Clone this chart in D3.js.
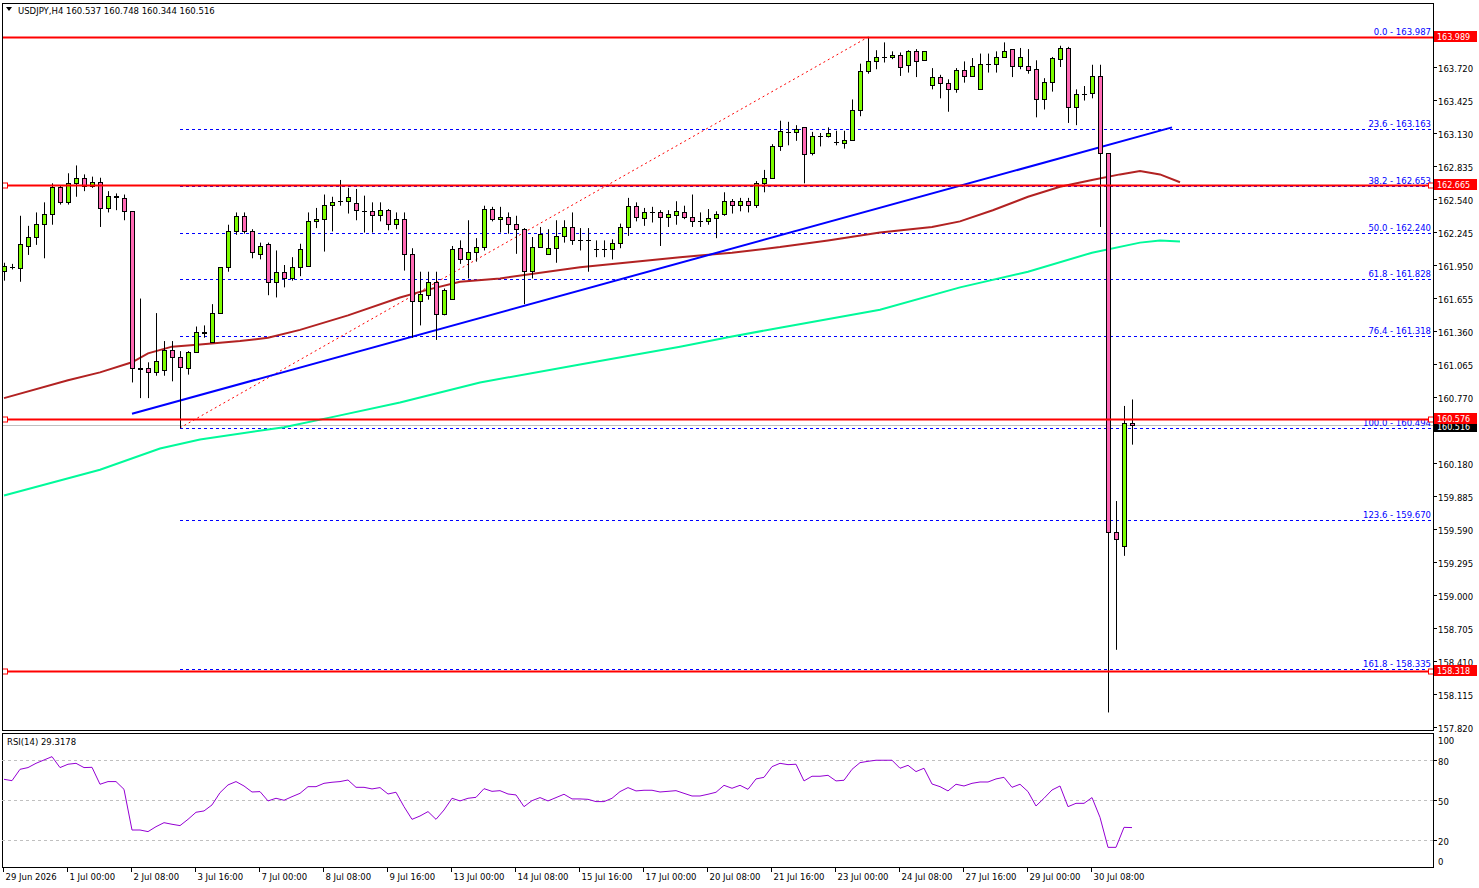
<!DOCTYPE html>
<html><head><meta charset="utf-8">
<script src="https://cdn.jsdelivr.net/npm/d3@7/dist/d3.min.js"></script>
<style>body{margin:0;background:#fff}svg{display:block}text{font-family:"DejaVu Sans",sans-serif}</style>
</head><body><svg id="c" width="1479" height="888"></svg>
<script>
// ---- DATA (USDJPY H4) ----
const opens=[161.90,161.93,161.92,162.12,162.20,162.32,162.41,162.65,162.51,162.68,162.73,162.66,162.69,162.46,162.57,162.55,162.43,161.03,161.03,160.99,161.01,161.19,161.13,161.03,161.17,161.34,161.26,161.52,161.93,162.25,162.39,162.25,162.05,162.14,161.80,161.89,161.83,161.93,161.94,162.34,162.36,162.49,162.52,162.52,162.50,162.43,162.43,162.40,162.44,162.32,162.36,162.05,161.63,161.68,161.80,161.51,161.65,162.10,162.00,162.07,162.11,162.45,162.36,162.38,162.32,162.27,161.90,162.11,162.05,162.10,162.21,162.29,162.17,162.17,162.09,162.09,162.09,162.15,162.29,162.48,162.37,162.42,162.42,162.38,162.40,162.42,162.38,162.34,162.34,162.37,162.41,162.52,162.49,162.52,162.49,162.68,162.73,163.01,163.14,163.14,163.18,162.95,163.10,163.10,163.05,163.04,163.07,163.34,163.68,163.77,163.81,163.81,163.83,163.74,163.86,163.78,163.56,163.63,163.58,163.52,163.69,163.64,163.52,163.75,163.75,163.81,163.88,163.73,163.73,163.70,163.43,163.59,163.79,163.89,163.36,163.48,163.49,163.64,162.95,159.56,159.44,160.537];
const highs=[161.97,161.96,162.39,162.30,162.42,162.51,162.68,162.66,162.77,162.84,162.76,162.74,162.73,162.61,162.59,162.58,162.43,161.65,161.08,161.52,161.27,161.27,161.18,161.18,161.40,161.41,161.60,161.93,162.31,162.42,162.42,162.27,162.15,162.15,162.08,161.95,162.02,162.14,162.42,162.46,162.58,162.56,162.71,162.64,162.63,162.57,162.51,162.51,162.45,162.42,162.42,162.10,161.89,161.89,161.89,161.74,162.12,162.17,162.35,162.19,162.48,162.47,162.47,162.42,162.39,162.28,162.20,162.29,162.27,162.35,162.35,162.42,162.28,162.28,162.17,162.17,162.18,162.32,162.55,162.51,162.46,162.47,162.44,162.44,162.52,162.48,162.58,162.42,162.45,162.43,162.60,162.54,162.55,162.55,162.70,162.80,163.03,163.24,163.23,163.20,163.18,163.14,163.13,163.18,163.15,163.15,163.43,163.75,163.99,163.87,163.94,163.86,163.85,163.87,163.88,163.86,163.71,163.65,163.61,163.71,163.77,163.80,163.84,163.84,163.86,163.94,163.88,163.89,163.88,163.78,163.62,163.81,163.91,163.90,163.52,163.55,163.74,163.74,162.95,159.84,160.69,160.748];
const lows=[161.81,161.91,161.80,162.04,162.13,162.01,162.31,162.49,162.49,162.56,162.61,162.64,162.29,162.42,162.44,162.35,160.90,160.76,160.76,160.96,160.96,160.91,160.49,160.97,161.17,161.30,161.26,161.52,161.89,162.22,162.23,162.01,162.00,161.68,161.66,161.75,161.81,161.85,161.94,162.28,162.07,162.25,162.48,162.41,162.35,162.24,162.24,162.34,162.26,162.27,161.90,161.30,161.41,161.64,161.28,161.50,161.64,161.96,161.83,161.98,162.08,162.34,162.24,162.23,162.05,161.60,161.83,162.11,162.04,161.97,162.15,162.13,162.08,161.89,162.02,162.02,162.00,162.10,162.21,162.34,162.30,162.33,162.12,162.29,162.31,162.36,162.29,162.29,162.31,162.19,162.39,162.41,162.43,162.42,162.46,162.60,162.72,162.97,163.02,163.06,162.68,162.93,163.01,163.09,163.02,162.99,163.06,163.28,163.66,163.70,163.76,163.79,163.64,163.67,163.63,163.78,163.52,163.44,163.32,163.49,163.58,163.64,163.52,163.67,163.67,163.81,163.63,163.70,163.66,163.27,163.34,163.50,163.72,163.22,163.20,163.42,163.44,162.29,157.95,158.51,159.35,160.344];
const closes=[161.94,161.93,162.14,162.20,162.32,162.41,162.65,162.51,162.68,162.73,162.66,162.69,162.46,162.57,162.56,162.43,161.03,161.02,160.99,161.09,161.19,161.13,161.04,161.17,161.35,161.35,161.52,161.93,162.25,162.39,162.25,162.07,162.12,161.80,161.89,161.83,161.93,162.09,162.34,162.36,162.49,162.51,162.52,162.56,162.44,162.43,162.40,162.44,162.32,162.36,162.05,161.63,161.69,161.80,161.51,161.73,162.09,162.00,162.07,162.11,162.45,162.36,162.38,162.32,162.27,161.90,162.11,162.23,162.10,162.21,162.29,162.17,162.17,162.17,162.09,162.09,162.15,162.29,162.48,162.38,162.42,162.42,162.38,162.41,162.43,162.38,162.34,162.34,162.37,162.41,162.52,162.49,162.52,162.49,162.68,162.73,163.01,163.15,163.14,163.17,162.94,163.10,163.10,163.13,163.05,163.07,163.34,163.68,163.77,163.81,163.81,163.83,163.72,163.86,163.77,163.86,163.63,163.58,163.52,163.69,163.64,163.73,163.75,163.75,163.81,163.86,163.73,163.81,163.69,163.43,163.59,163.80,163.89,163.36,163.48,163.48,163.64,162.95,159.56,159.50,160.54,160.516];
// moving averages (candle index, price)
const maRedIdx=[0,8,12,16,18,21,24.5,29.5,33,37,43,49.5,53,57,62,72,84.5,91,97,103,109.5,116,119.5,123.6,128,132,136,139.5,142,144.5,147];
const maRedVal=[160.76,160.92,160.99,161.08,161.16,161.22,161.24,161.27,161.30,161.37,161.50,161.66,161.73,161.80,161.83,161.93,162.02,162.06,162.11,162.17,162.24,162.29,162.34,162.44,162.56,162.65,162.71,162.76,162.79,162.76,162.69];
const maGreenIdx=[0,12,19.5,24.5,35,41,49.5,59.5,72,84.5,91,97,109.5,119.5,128,136,142,144.5,147];
const maGreenVal=[159.89,160.12,160.31,160.39,160.50,160.59,160.72,160.90,161.06,161.22,161.31,161.39,161.55,161.75,161.89,162.06,162.15,162.17,162.16];
const rsi=[65.5,64.5,73,74.3,77.5,80,82.5,74.3,76.8,77.5,74.3,74.5,61.8,63.8,63.8,58,27.5,27.5,26.3,30,33,31.8,30.8,35.5,40.8,41.8,46.3,55.5,61.3,63.8,60.5,56,56.3,49.3,51.3,49.8,52.5,55,60,60,62.5,63.3,63.8,65,59.5,59.5,58.3,59.3,54.5,55.8,45,35.5,38,41.3,35.5,42.5,51.3,49.3,51.3,52,58.5,56.5,57,54.5,53.8,45,49.5,51.8,49.3,51.8,54.3,50.8,50.8,50.5,48.8,48.8,51.3,56.3,59.3,56.8,57.3,57.3,56,56.5,57,55,53,53,54.3,55.8,61,58.8,61,58,65.8,67,75,77.5,76.5,76.8,64.3,67.8,67.8,68.5,64.3,64.8,73,78,79,79.8,79.8,79.8,73.8,76,71.3,73.8,62,60,56.8,61.8,60.5,62.5,63.5,63.5,65.8,67,59.5,61.8,56.3,45.5,51.3,57.5,60.5,45,47.5,47.5,51.8,37,14.5,14.5,29.5,29.32];
const fibPct=["0.0","23.6","38.2","50.0","61.8","76.4","100.0","123.6","161.8"];
const fibVal=[163.987,163.163,162.653,162.240,161.828,161.318,160.494,159.670,158.335];
const hLevels=[163.989,162.665,160.576,158.318];
const priceTicks=[163.720,163.425,163.130,162.835,162.540,162.245,161.950,161.655,161.360,161.065,160.770,160.475,160.180,159.885,159.590,159.295,159.000,158.705,158.410,158.115,157.820];
const rsiTicks=[100,80,50,20,0];
const rsiLevels=[80,50,20];
const dateIdx=[0,8,16,24,32,40,48,56,64,72,80,88,96,104,112,120,128,136];
const dateLbl=["29 Jun 2026","1 Jul 00:00","2 Jul 08:00","3 Jul 16:00","7 Jul 00:00","8 Jul 08:00","9 Jul 16:00","13 Jul 00:00","14 Jul 08:00","15 Jul 16:00","17 Jul 00:00","20 Jul 08:00","21 Jul 16:00","23 Jul 00:00","24 Jul 08:00","27 Jul 16:00","29 Jul 00:00","30 Jul 08:00"];
const trend={i0:16,p0:160.62,i1:146,p1:163.18};
const fibLine={i0:22,p0:160.494,i1:108,p1:163.987,start:22};
const header="USDJPY,H4  160.537 160.748 160.344 160.516";
const bid=160.516;

// ---- DRAW ----
const svg=d3.select("#c");
const R=1433, L=2;
const x=d3.scaleLinear().domain([0,1]).range([4,12]);
const y=d3.scaleLinear().domain([157.820,163.720]).range([727,67]);
const yr=d3.scaleLinear().domain([0,100]).range([866.7,733.3]);
const fs=8.5;
svg.append("defs").append("clipPath").attr("id","mc").append("rect").attr("x",L).attr("y",3).attr("width",R-L).attr("height",727);
svg.append("defs").append("clipPath").attr("id","rc").append("rect").attr("x",L).attr("y",733).attr("width",R-L).attr("height",134);
const m=svg.append("g").attr("clip-path","url(#mc)");

m.append("line").attr("x1",L).attr("x2",R).attr("y1",Math.round(y(bid))+0.5).attr("y2",Math.round(y(bid))+0.5).attr("stroke","#c0c0c0");
fibVal.forEach((v,k)=>{
  const yy=Math.round(y(v))+0.5;
  m.append("line").attr("x1",x(fibLine.start)).attr("x2",R).attr("y1",yy).attr("y2",yy)
   .attr("stroke","#0000ff").attr("stroke-dasharray","3,3");
  m.append("text").attr("x",R-2).attr("y",yy-3).attr("text-anchor","end").attr("font-size",fs).attr("fill","#0000ff").text(fibPct[k]+" - "+v.toFixed(3));
});
m.append("line").attr("x1",x(fibLine.i0)).attr("y1",y(fibLine.p0)).attr("x2",x(fibLine.i1)).attr("y2",y(fibLine.p1)).attr("stroke","#ff0000").attr("stroke-dasharray","2,3");
const ln=d3.line();
m.append("path").attr("d",ln(maGreenIdx.map((d,k)=>[x(d),y(maGreenVal[k])]))).attr("fill","none").attr("stroke","#00fa9a").attr("stroke-width",2);
m.append("path").attr("d",ln(maRedIdx.map((d,k)=>[x(d),y(maRedVal[k])]))).attr("fill","none").attr("stroke","#b22222").attr("stroke-width",2);
m.append("line").attr("x1",x(trend.i0)).attr("y1",y(trend.p0)).attr("x2",x(trend.i1)).attr("y2",y(trend.p1)).attr("stroke","#0000ff").attr("stroke-width",2);
opens.forEach((o,i)=>{
  const c=closes[i],cx=Math.round(x(i))+0.5;
  m.append("line").attr("x1",cx).attr("x2",cx).attr("y1",y(highs[i])).attr("y2",y(lows[i])).attr("stroke","#000");
  const t=Math.round(y(Math.max(o,c))),b=Math.round(y(Math.min(o,c)));
  if(b-t<1){m.append("line").attr("x1",cx-2.5).attr("x2",cx+2.5).attr("y1",t+0.5).attr("y2",t+0.5).attr("stroke","#000");}
  else m.append("rect").attr("x",cx-2).attr("y",t+0.5).attr("width",4).attr("height",b-t).attr("fill",c>=o?"#7cfc00":"#ff69b4").attr("stroke","#000");
});
hLevels.forEach((v,k)=>{
  const yy=Math.round(y(v))+0.5;
  m.append("line").attr("x1",L).attr("x2",R).attr("y1",yy).attr("y2",yy).attr("stroke","#ff0000").attr("stroke-width",2);
  if(k>0){
    [5,R-2].forEach(px=>m.append("rect").attr("x",px-2.5).attr("y",yy-2.5).attr("width",5).attr("height",5).attr("fill","#fff").attr("stroke","#ff0000"));
  }
});
svg.append("rect").attr("x",L+0.5).attr("y",3.5).attr("width",R-L).attr("height",727).attr("fill","none").attr("stroke","#000");
svg.append("rect").attr("x",L+0.5).attr("y",733.5).attr("width",R-L).attr("height",134).attr("fill","none").attr("stroke","#000");
svg.append("path").attr("d","M6,7 L12,7 L9,11 Z").attr("fill","#000");
svg.append("text").attr("x",18).attr("y",14).attr("font-size",fs).attr("fill","#000").text(header);
const tagVals=[bid].concat(hLevels);
priceTicks.forEach(v=>{
  const yy=Math.round(y(v))+0.5;
  svg.append("line").attr("x1",R).attr("x2",R+4).attr("y1",yy).attr("y2",yy).attr("stroke","#000");
  if(tagVals.some(t=>Math.abs(y(t)-y(v))<10)) return;
  svg.append("text").attr("x",R+5).attr("y",yy+4).attr("font-size",fs).attr("fill","#000").text(v.toFixed(3));
});
function tag(v,bg,dy){const yy=Math.round(y(v))+dy;
  svg.append("rect").attr("x",R+1).attr("y",yy-5).attr("width",43).attr("height",11).attr("fill",bg);
  svg.append("text").attr("x",R+4).attr("y",yy+4).attr("font-size",8).attr("fill","#fff").text(v.toFixed(3));}
tag(bid,"#000",1);
hLevels.forEach(v=>tag(v,"#ff0000",-1));
const r=svg.append("g").attr("clip-path","url(#rc)");
rsiLevels.forEach(v=>r.append("line").attr("x1",L).attr("x2",R).attr("y1",Math.round(yr(v))+0.5).attr("y2",Math.round(yr(v))+0.5).attr("stroke","#c0c0c0").attr("stroke-dasharray","3,3"));
r.append("path").attr("d",ln(rsi.map((v,i)=>[x(i),yr(v)]))).attr("fill","none").attr("stroke","#9400d3").attr("stroke-width",1);
svg.append("text").attr("x",7).attr("y",745).attr("font-size",fs).attr("fill","#000").text("RSI(14) "+(29.3178).toFixed(4));
rsiTicks.forEach(v=>{
  const yy=v===100?740:v===0?861:Math.round(yr(v))+0.5;
  if(v!==100&&v!==0) svg.append("line").attr("x1",R).attr("x2",R+4).attr("y1",yy).attr("y2",yy).attr("stroke","#000");
  svg.append("text").attr("x",R+5).attr("y",yy+4).attr("font-size",fs).attr("fill","#000").text(v);
});
dateIdx.forEach((d,k)=>{
  const xx=Math.round(x(d))-0.5;
  svg.append("line").attr("x1",xx).attr("x2",xx).attr("y1",868).attr("y2",872).attr("stroke","#000");
  svg.append("text").attr("x",xx+2).attr("y",880).attr("font-size",fs).attr("fill","#000").text(dateLbl[k]);
});
</script></body></html>
